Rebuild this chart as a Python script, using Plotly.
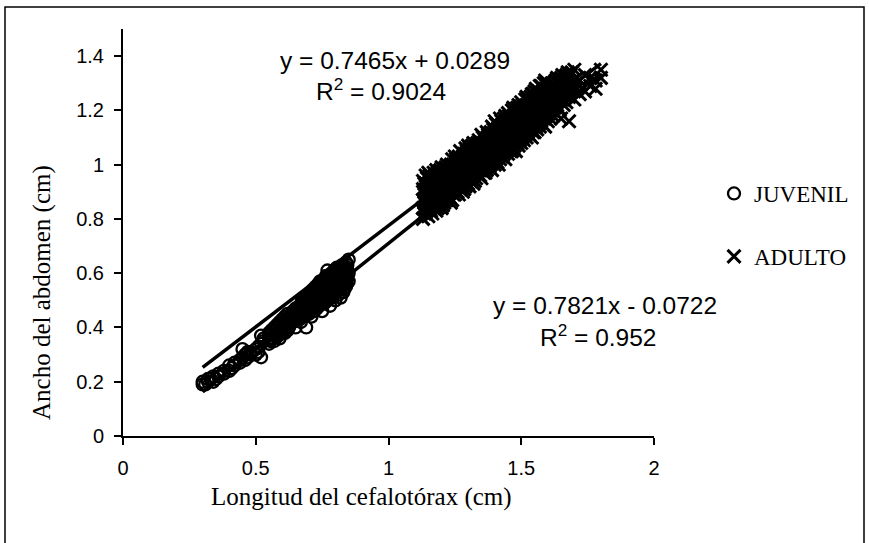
import plotly.graph_objects as go

# ---------------- data ----------------
# JUVENIL: cephalothorax length columns and the abdomen widths found in each
juv_cefalotorax = [0.30, 0.31, 0.32, 0.33, 0.34, 0.35, 0.36, 0.38, 0.40, 0.41,
                   0.42, 0.44, 0.45, 0.46, 0.47, 0.48, 0.50, 0.51, 0.52, 0.53,
                   0.55, 0.56, 0.57, 0.58, 0.59, 0.60, 0.61, 0.62, 0.63, 0.64,
                   0.65, 0.66, 0.67, 0.68, 0.69, 0.70, 0.71, 0.72, 0.73, 0.74,
                   0.75, 0.76, 0.77, 0.78, 0.79, 0.80, 0.81, 0.82, 0.83, 0.84,
                   0.85,
                   0.555, 0.565, 0.575, 0.585, 0.595, 0.605, 0.615, 0.625, 0.635,
                   0.645, 0.655, 0.665, 0.675, 0.685, 0.695, 0.705, 0.715, 0.725,
                   0.735, 0.745, 0.755, 0.765, 0.775, 0.785, 0.795, 0.805, 0.815,
                   0.825, 0.835, 0.845,
                   0.6625, 0.6725, 0.6825, 0.6925, 0.7025, 0.7125, 0.7225, 0.7325,
                   0.7425, 0.7525, 0.7625, 0.7725, 0.7825, 0.7925, 0.8025, 0.8125,
                   0.8225, 0.8325, 0.8425]
juv_abdomen = [[0.19, 0.20], [0.19], [0.20, 0.21], [0.21], [0.20, 0.22], [0.21],
               [0.22, 0.23], [0.23, 0.24], [0.24, 0.26], [0.25], [0.26, 0.27],
               [0.27, 0.28], [0.29, 0.32], [0.28, 0.30], [0.29, 0.31], [0.30, 0.31],
               [0.30, 0.32], [0.33, 0.31], [0.29, 0.34, 0.37], [0.35, 0.36],
               [0.34, 0.36, 0.38], [0.36, 0.39], [0.35, 0.37, 0.40], [0.38, 0.41],
               [0.36, 0.39, 0.42], [0.40, 0.43], [0.38, 0.41, 0.44], [0.39, 0.42, 0.45],
               [0.41, 0.43], [0.42, 0.44, 0.46], [0.40, 0.43, 0.45, 0.47], [0.44, 0.46],
               [0.42, 0.45, 0.48], [0.44, 0.47, 0.49], [0.40, 0.46, 0.48, 0.50],
               [0.45, 0.47, 0.51], [0.44, 0.48, 0.50, 0.52], [0.46, 0.49, 0.53],
               [0.47, 0.50, 0.52, 0.55], [0.48, 0.51, 0.54], [0.46, 0.50, 0.53, 0.56],
               [0.49, 0.52, 0.55, 0.58], [0.50, 0.54, 0.57, 0.61], [0.48, 0.52, 0.55, 0.59],
               [0.51, 0.54, 0.57, 0.60], [0.50, 0.53, 0.56, 0.59], [0.52, 0.55, 0.58, 0.61],
               [0.51, 0.54, 0.57, 0.62], [0.53, 0.56, 0.60, 0.63], [0.55, 0.58, 0.61, 0.64],
               [0.57, 0.60, 0.65],
               [0.35, 0.38], [0.36, 0.39], [0.37, 0.40], [0.37, 0.40], [0.38, 0.41],
               [0.39, 0.42], [0.40, 0.43], [0.40, 0.44], [0.42, 0.45], [0.43, 0.45],
               [0.44, 0.47], [0.43, 0.46, 0.48], [0.45, 0.47, 0.50], [0.46, 0.49, 0.51],
               [0.45, 0.48, 0.51], [0.47, 0.50, 0.53], [0.48, 0.51, 0.54],
               [0.48, 0.52, 0.55], [0.49, 0.53, 0.56], [0.50, 0.53, 0.57],
               [0.51, 0.54, 0.57], [0.51, 0.55, 0.59], [0.52, 0.56, 0.59],
               [0.53, 0.56, 0.60], [0.53, 0.57, 0.61], [0.54, 0.58, 0.62],
               [0.54, 0.59, 0.62], [0.55, 0.59, 0.63], [0.56, 0.60, 0.62],
               [0.58, 0.61, 0.63],
               [0.44, 0.47], [0.46, 0.49], [0.45, 0.48], [0.47, 0.50],
               [0.46, 0.49, 0.52], [0.47, 0.50, 0.53], [0.49, 0.51, 0.54],
               [0.48, 0.52, 0.55], [0.50, 0.54, 0.57], [0.49, 0.53, 0.56],
               [0.51, 0.54, 0.58], [0.52, 0.55, 0.58], [0.51, 0.55, 0.58],
               [0.52, 0.56, 0.59], [0.53, 0.57, 0.60], [0.54, 0.57, 0.61],
               [0.55, 0.58, 0.61], [0.54, 0.58, 0.62], [0.56, 0.59, 0.62]]

# ADULTO
adu_cefalotorax = [1.13, 1.14, 1.15, 1.16, 1.17, 1.18, 1.19, 1.20, 1.21, 1.22,
                   1.23, 1.24, 1.25, 1.26, 1.27, 1.28, 1.29, 1.30, 1.31, 1.32,
                   1.33, 1.34, 1.35, 1.36, 1.37, 1.38, 1.39, 1.40, 1.41, 1.42,
                   1.43, 1.44, 1.45, 1.46, 1.47, 1.48, 1.49, 1.50, 1.51, 1.52,
                   1.53, 1.54, 1.55, 1.56, 1.57, 1.58, 1.59, 1.60, 1.61, 1.62,
                   1.63, 1.64, 1.65, 1.66, 1.67, 1.68, 1.69, 1.70, 1.71, 1.72,
                   1.74, 1.76, 1.78, 1.80,
                   1.135, 1.145, 1.155, 1.165, 1.175, 1.185, 1.195, 1.205, 1.215,
                   1.225, 1.235, 1.245, 1.255, 1.265, 1.275, 1.285, 1.295, 1.305,
                   1.315, 1.325, 1.335, 1.345, 1.355, 1.365, 1.375, 1.385, 1.395,
                   1.405, 1.415, 1.425, 1.435, 1.445, 1.455, 1.465, 1.475, 1.485,
                   1.495, 1.505, 1.515, 1.525, 1.535, 1.545, 1.555, 1.565, 1.575,
                   1.585, 1.595, 1.605, 1.615, 1.625, 1.635, 1.645, 1.655, 1.665,
                   1.675, 1.685, 1.695,
                   1.1425, 1.1525, 1.1625, 1.1725, 1.1825, 1.1925, 1.2025, 1.2125,
                   1.2225, 1.2325, 1.2425, 1.2525, 1.2625, 1.2725, 1.2825, 1.2925,
                   1.3025, 1.3125, 1.3225, 1.3325, 1.3425, 1.3525, 1.3625, 1.3725,
                   1.3825, 1.3925, 1.4025, 1.4125, 1.4225, 1.4325, 1.4425, 1.4525,
                   1.4625, 1.4725, 1.4825, 1.4925, 1.5025, 1.5125, 1.5225, 1.5325,
                   1.5425, 1.5525, 1.5625, 1.5725]
adu_abdomen = [[0.80, 0.84, 0.87, 0.91, 0.94], [0.82, 0.86, 0.89, 0.93, 0.96],
               [0.81, 0.85, 0.88, 0.90, 0.95, 0.97], [0.83, 0.87, 0.91, 0.94],
               [0.84, 0.86, 0.90, 0.93, 0.97], [0.83, 0.88, 0.91, 0.95, 0.98],
               [0.85, 0.89, 0.92, 0.96], [0.84, 0.87, 0.93, 0.95, 0.99],
               [0.86, 0.90, 0.94, 0.97], [0.87, 0.91, 0.93, 0.96, 1.00],
               [0.88, 0.92, 0.95, 0.99], [0.87, 0.90, 0.94, 0.97, 1.02],
               [0.89, 0.93, 0.96, 1.00, 1.03], [0.90, 0.95, 0.98, 1.01],
               [0.91, 0.94, 0.97, 1.00, 1.05], [0.90, 0.96, 0.99, 1.03],
               [0.92, 0.95, 0.99, 1.02, 1.06], [0.93, 0.97, 1.00, 1.04, 1.07],
               [0.94, 0.98, 1.01, 1.05], [0.93, 0.97, 1.02, 1.04, 1.08],
               [0.95, 0.99, 1.03, 1.06], [0.96, 1.00, 1.02, 1.05, 1.09],
               [0.95, 0.99, 1.04, 1.07, 1.11], [0.97, 1.01, 1.05, 1.08],
               [0.98, 1.02, 1.06, 1.09, 1.12], [0.99, 1.03, 1.05, 1.10],
               [0.98, 1.01, 1.07, 1.11, 1.14], [1.00, 1.04, 1.08, 1.12, 1.16],
               [1.01, 1.06, 1.09, 1.13], [1.02, 1.05, 1.10, 1.14, 1.17],
               [1.03, 1.07, 1.11, 1.15], [1.02, 1.06, 1.10, 1.13, 1.18],
               [1.04, 1.08, 1.12, 1.16, 1.19], [1.05, 1.09, 1.13, 1.17],
               [1.06, 1.10, 1.14, 1.18, 1.21], [1.05, 1.11, 1.15, 1.19],
               [1.07, 1.12, 1.16, 1.20, 1.22], [1.08, 1.11, 1.15, 1.19, 1.23],
               [1.09, 1.13, 1.17, 1.21], [1.10, 1.14, 1.18, 1.22, 1.25],
               [1.11, 1.15, 1.19, 1.23], [1.10, 1.14, 1.18, 1.21, 1.26],
               [1.12, 1.16, 1.20, 1.24, 1.27], [1.13, 1.17, 1.21, 1.25],
               [1.14, 1.18, 1.22, 1.26, 1.29], [1.15, 1.19, 1.23, 1.27],
               [1.14, 1.20, 1.24, 1.28, 1.31], [1.16, 1.19, 1.23, 1.27, 1.30],
               [1.17, 1.22, 1.26, 1.29], [1.18, 1.24, 1.28],
               [1.19, 1.23, 1.27, 1.31], [1.21, 1.25, 1.30],
               [1.17, 1.24, 1.28, 1.32], [1.22, 1.26, 1.30],
               [1.23, 1.29, 1.33], [1.16, 1.25, 1.31],
               [1.27, 1.30, 1.34], [1.24, 1.29, 1.35],
               [1.28, 1.32], [1.26, 1.31], [1.27, 1.33], [1.29, 1.32],
               [1.28, 1.31], [1.32, 1.35],
               [0.82, 0.86, 0.90, 0.93], [0.83, 0.87, 0.91, 0.95],
               [0.84, 0.88, 0.92, 0.96], [0.82, 0.86, 0.89, 0.95],
               [0.85, 0.89, 0.92, 0.96], [0.84, 0.87, 0.93, 0.97],
               [0.86, 0.90, 0.94, 0.98], [0.85, 0.89, 0.92, 0.97],
               [0.87, 0.92, 0.95, 0.99], [0.88, 0.90, 0.94, 0.98],
               [0.86, 0.91, 0.96, 1.00], [0.89, 0.92, 0.95, 0.99],
               [0.90, 0.94, 0.98, 1.02], [0.89, 0.93, 0.97, 1.03],
               [0.92, 0.96, 0.99, 1.02], [0.91, 0.94, 1.00, 1.04],
               [0.93, 0.97, 1.01, 1.05], [0.92, 0.96, 1.02, 1.06],
               [0.95, 0.99, 1.03, 1.07], [0.94, 1.00, 1.03, 1.06],
               [0.97, 1.01, 1.04, 1.08], [0.96, 0.98, 1.03, 1.07],
               [0.98, 1.02, 1.06, 1.10], [0.97, 1.00, 1.04, 1.09],
               [0.99, 1.04, 1.07, 1.11], [1.00, 1.02, 1.08, 1.12],
               [1.01, 1.05, 1.09, 1.13], [1.02, 1.06, 1.10, 1.15],
               [1.00, 1.04, 1.11, 1.14], [1.03, 1.08, 1.12, 1.16],
               [1.04, 1.09, 1.12, 1.17], [1.05, 1.08, 1.14, 1.16],
               [1.06, 1.10, 1.15, 1.18], [1.05, 1.11, 1.14, 1.20],
               [1.07, 1.12, 1.16, 1.19], [1.08, 1.13, 1.17, 1.21],
               [1.09, 1.14, 1.18, 1.21], [1.10, 1.13, 1.19, 1.22],
               [1.11, 1.15, 1.20, 1.24], [1.12, 1.16, 1.21, 1.24],
               [1.13, 1.17, 1.20, 1.25], [1.12, 1.17, 1.22, 1.26],
               [1.14, 1.18, 1.23, 1.28], [1.15, 1.19, 1.24, 1.27],
               [1.16, 1.21, 1.25, 1.29], [1.17, 1.22, 1.26, 1.30],
               [1.18, 1.21, 1.27, 1.30], [1.19, 1.24, 1.28],
               [1.20, 1.25, 1.30], [1.21, 1.26, 1.29], [1.22, 1.27, 1.32],
               [1.20, 1.26, 1.31], [1.24, 1.28, 1.33], [1.25, 1.29, 1.32],
               [1.26, 1.30, 1.34], [1.27, 1.33], [1.28, 1.31],
               [0.84, 0.88, 0.92], [0.85, 0.89, 0.93], [0.86, 0.90, 0.94],
               [0.86, 0.91, 0.95], [0.87, 0.92, 0.95], [0.88, 0.92, 0.96],
               [0.89, 0.93, 0.97], [0.89, 0.94, 0.98], [0.90, 0.95, 0.98],
               [0.91, 0.95, 0.99], [0.92, 0.96, 1.00], [0.92, 0.97, 1.01],
               [0.93, 0.98, 1.02], [0.94, 0.98, 1.02], [0.95, 0.99, 1.03],
               [0.95, 1.00, 1.04], [0.96, 1.01, 1.05], [0.97, 1.01, 1.05],
               [0.98, 1.02, 1.06], [0.98, 1.03, 1.07], [0.99, 1.04, 1.08],
               [1.00, 1.04, 1.08], [1.01, 1.05, 1.09], [1.01, 1.06, 1.10],
               [1.02, 1.07, 1.11], [1.03, 1.07, 1.11], [1.04, 1.08, 1.12],
               [1.04, 1.09, 1.13], [1.05, 1.10, 1.14], [1.06, 1.10, 1.14],
               [1.07, 1.11, 1.15], [1.07, 1.12, 1.16], [1.08, 1.13, 1.17],
               [1.09, 1.13, 1.17], [1.10, 1.14, 1.18], [1.10, 1.15, 1.19],
               [1.11, 1.16, 1.20], [1.12, 1.16, 1.20], [1.13, 1.17, 1.21],
               [1.13, 1.18, 1.22], [1.14, 1.19, 1.23], [1.15, 1.19, 1.23],
               [1.16, 1.20, 1.24], [1.16, 1.21, 1.25]]

# trend lines: (slope, intercept, R2 text)
trend_upper = (0.7465, 0.0289, "0.9024")
trend_lower = (0.7821, -0.0722, "0.952")

x_ticks = [0, 0.5, 1, 1.5, 2]
x_tick_labels = ["0", "0.5", "1", "1.5", "2"]
y_ticks = [0, 0.2, 0.4, 0.6, 0.8, 1.0, 1.2, 1.4]
y_tick_labels = ["0", "0.2", "0.4", "0.6", "0.8", "1", "1.2", "1.4"]

series_names = ["JUVENIL", "ADULTO"]
x_title = "Longitud del cefalotórax (cm)"
y_title = "Ancho del abdomen (cm)"

# ---------------- build ----------------
def expand(cols, groups):
    xs, ys = [], []
    for xv, g in zip(cols, groups):
        for yv in g:
            xs.append(xv)
            ys.append(yv)
    return xs, ys

jx, jy = expand(juv_cefalotorax, juv_abdomen)
ax, ay = expand(adu_cefalotorax, adu_abdomen)

W, H = 869, 543
PL, PR, PT, PB = 123, 654, 29, 436          # plot area in pixels
PW, PH = PR - PL, PB - PT

def px_x(p):
    return (p - PL) / PW

def px_y(p):
    return (PB - p) / PH

SANS = "Liberation Sans, Arial, sans-serif"
SERIF = "Liberation Serif, Times New Roman, serif"

fig = go.Figure()

fig.add_trace(go.Scatter(
    x=jx, y=jy, mode="markers", name=series_names[0], legendgroup="j",
    marker=dict(symbol="circle-open", size=12, color="black",
                line=dict(color="black", width=2.3)),
))
fig.add_trace(go.Scatter(
    x=ax, y=ay, mode="markers", name=series_names[1], legendgroup="a",
    marker=dict(symbol="x-thin-open", size=13, color="black",
                line=dict(color="black", width=3)),
))

xmin = min(jx + ax)
xmax = max(jx + ax)
for slope, icpt, _ in (trend_upper, trend_lower):
    fig.add_trace(go.Scatter(
        x=[xmin, xmax], y=[slope * xmin + icpt, slope * xmax + icpt],
        mode="lines", line=dict(color="black", width=3.5),
        showlegend=False, hoverinfo="skip",
    ))

def eq_text(slope, icpt):
    sign = "+" if icpt >= 0 else "-"
    return f"y = {slope:.4f}x {sign} {abs(icpt):.4f}"

annotations = [
    dict(text=eq_text(*trend_upper[:2]), x=px_x(395), y=px_y(60)),
    dict(text="R<sup>2</sup> = " + trend_upper[2], x=px_x(381), y=px_y(89)),
    dict(text=eq_text(*trend_lower[:2]), x=px_x(605), y=px_y(305)),
    dict(text="R<sup>2</sup> = " + trend_lower[2], x=px_x(598), y=px_y(335)),
]
for a in annotations:
    a.update(xref="paper", yref="paper", showarrow=False, xanchor="center",
             yanchor="middle", font=dict(family=SANS, size=24.5, color="black"))

annotations.append(dict(text=x_title, x=px_x(361), y=px_y(497), xref="paper",
                        yref="paper", showarrow=False, xanchor="center",
                        yanchor="middle",
                        font=dict(family=SERIF, size=25, color="black")))
annotations.append(dict(text=y_title, x=px_x(42), y=px_y(293), xref="paper",
                        yref="paper", showarrow=False, xanchor="center",
                        yanchor="middle", textangle=-90,
                        font=dict(family=SERIF, size=25, color="black")))

axis_common = dict(showline=True, linecolor="black", linewidth=2,
                   ticks="outside", ticklen=7, tickwidth=2, tickcolor="black",
                   showgrid=False, zeroline=False,
                   tickfont=dict(family=SANS, size=20, color="black"))

fig.update_layout(
    width=W, height=H, autosize=False,
    margin=dict(l=PL, r=W - PR, t=PT, b=H - PB, pad=0),
    paper_bgcolor="white", plot_bgcolor="white",
    xaxis=dict(range=[0, 2], tickmode="array", tickvals=x_ticks,
               ticktext=x_tick_labels, ticklabelstandoff=6, **axis_common),
    yaxis=dict(range=[0, 1.5], tickmode="array", tickvals=y_ticks,
               ticktext=y_tick_labels, ticklabelstandoff=6, **axis_common),
    legend=dict(x=px_x(714), y=px_y(172), xanchor="left", yanchor="top",
                font=dict(family=SERIF, size=23, color="black"),
                tracegroupgap=30, bgcolor="rgba(0,0,0,0)", itemwidth=30),
    annotations=annotations,
    shapes=[dict(type="rect", xref="paper", yref="paper",
                 x0=px_x(5), x1=px_x(864), y0=px_y(560), y1=px_y(7),
                 line=dict(color="black", width=1.5), layer="below")],
    showlegend=True,
)

fig.write_html(
    "out.html",
    config={"displayModeBar": False},
    post_script="document.body.style.margin='0px';"
                "document.body.style.overflow='hidden';",
)
